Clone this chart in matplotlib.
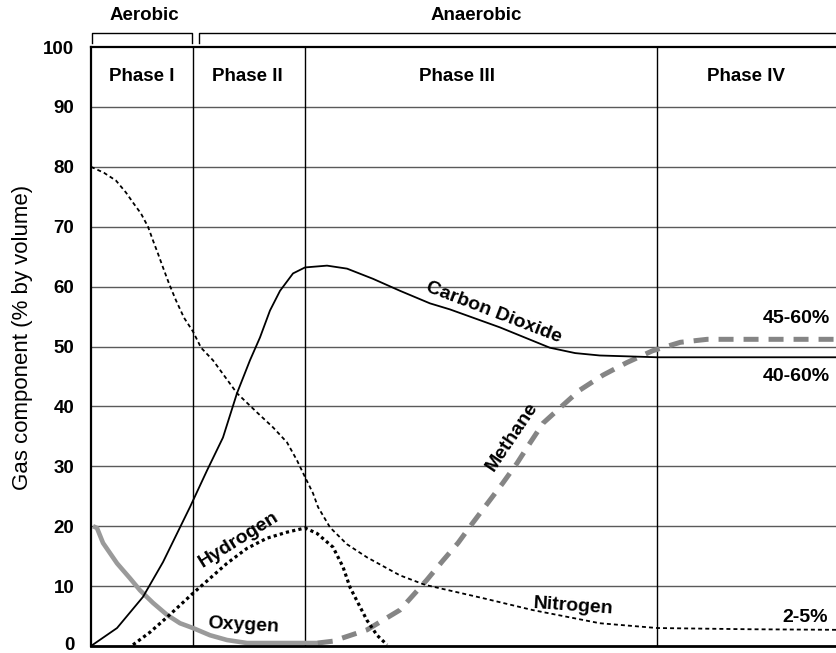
import matplotlib
matplotlib.use("Agg")
import matplotlib.pyplot as plt
import matplotlib.transforms as mtransforms

plt.rcParams['font.family'] = ['Liberation Sans', 'DejaVu Sans']

# ---- data (x = relative landfill age, 0-100; y = % by volume) ----
phase_bounds = [13.7, 28.7, 75.9]
phase_names = ['Phase I', 'Phase II', 'Phase III', 'Phase IV']
phase_label_x = [6.8, 20.9, 49.1, 87.8]

n2_x = [0, 1.74, 3.35, 4.69, 5.76, 6.70, 7.64, 8.31, 8.98, 9.65, 10.46, 11.39,
        12.47, 13.67, 14.75, 16.35, 19.57, 22.25, 24.40, 26.27, 27.61, 28.69,
        29.76, 30.43, 32.04, 34.3, 37.0, 41.4, 44.8, 52.5, 59.2, 68.2, 75.9,
        88.0, 100]
n2_y = [80, 79, 77.7, 75.7, 73.8, 72.2, 70, 67.7, 65.5, 63.2, 60.5, 57.7,
        54.8, 52.5, 49.8, 47.7, 42.2, 39, 36.5, 34, 31, 28.2,
        25.5, 23.2, 19.8, 17.0, 14.8, 11.8, 10.2, 8.0, 6.0, 3.8, 3.0,
        2.8, 2.7]

co2_x = [0, 3.49, 6.97, 9.65, 11.93, 13.27, 15.55, 17.69, 19.57, 21.31, 22.65,
         23.99, 25.34, 27.08, 28.69, 31.64, 34.32, 37.80, 41.42, 45.44, 48.1,
         54.8, 61.5, 64.9, 68.2, 75.9, 100]
co2_y = [0, 3.0, 8.2, 14.0, 19.8, 23.2, 29.3, 34.8, 42.2, 47.7, 51.5,
         56, 59.3, 62.2, 63.2, 63.5, 63, 61.3, 59.3, 57.2, 56.2,
         53.2, 49.8, 48.9, 48.5, 48.2, 48.2]

o2_x = [0.27, 0.80, 1.61, 3.49, 5.23, 6.57, 8.31, 10.19, 11.93, 13.67, 15.95,
        18.23, 20.91, 23.59, 30.43]
o2_y = [20, 19.7, 17.2, 13.8, 11.3, 9.3, 7.2, 5.2, 3.8, 3.0, 1.8,
        1.0, 0.5, 0.5, 0.5]

h2_x = [5.63, 7.91, 10.19, 11.93, 13.67, 15.95, 18.23, 20.91, 23.59, 26.27,
        28.69, 30.29, 32.44, 33.78, 34.72, 35.79, 36.99, 38.34, 39.68]
h2_y = [0.2, 2.3, 4.8, 6.8, 8.8, 11.3, 13.8, 16.3, 18.0, 19.0,
        19.7, 18.8, 16.5, 13.2, 9.8, 7.2, 4.3, 1.8, 0.2]

ch4_x = [30.4, 32.4, 37.0, 41.4, 43.2, 45.0, 47.2, 49.2, 51.2, 55.2, 57.1, 58.8,
         60.6, 62.9, 65.5, 68.6, 71.8, 75.3, 79.0, 82.6, 100]
ch4_y = [0.5, 0.8, 2.7, 6.0, 8.5, 11.0, 14.3, 17.2, 20.6, 27.2, 30.5, 33.8,
         37.2, 39.8, 42.7, 45.2, 47.3, 49.3, 50.7, 51.2, 51.2]

fig = plt.figure(figsize=(8.37, 6.53), dpi=100)
ax = fig.add_axes([91 / 837, 7 / 653, 746 / 837, 599 / 653])
ax.set_xlim(0, 100)
ax.set_ylim(0, 100)

# grid + phase separators
for yv in range(10, 100, 10):
    ax.axhline(yv, color='#5a5a5a', lw=1.0, zorder=1)
for xb in phase_bounds:
    ax.axvline(xb, color='black', lw=1.0, zorder=1)

# curves
ax.plot(n2_x, n2_y, color='black', lw=1.3, dashes=(2.2, 1.7), zorder=3)
ax.plot(co2_x, co2_y, color='black', lw=1.3, zorder=3)
ax.plot(o2_x, o2_y, color='#9a9a9a', lw=3.3, solid_capstyle='butt', zorder=2)
ax.plot(h2_x, h2_y, color='black', lw=2.3, dashes=(1.0, 1.0),
        dash_capstyle='butt', zorder=3)
ax.plot(ch4_x, ch4_y, color='#858585', lw=3.6, dashes=(3.0, 2.0),
        dash_capstyle='butt', zorder=2)

# curve labels
lab = dict(fontsize=14, fontweight='bold', zorder=4)
ax.text(54.0, 55.6, 'Carbon Dioxide', rotation=-21, ha='center', va='center', **lab)
ax.text(56.4, 35.0, 'Methane', rotation=56, ha='center', va='center', **lab)
ax.text(19.8, 17.8, 'Hydrogen', rotation=32, ha='center', va='center', **lab)
ax.text(20.4, 3.4, 'Oxygen', rotation=-3, ha='center', va='center', **lab)
ax.text(64.6, 6.7, 'Nitrogen', rotation=-4, ha='center', va='center', **lab)
ax.text(99.1, 54.7, '45-60%', ha='right', va='center', **lab)
ax.text(99.1, 45.0, '40-60%', ha='right', va='center', **lab)
ax.text(98.8, 4.8, '2-5%', ha='right', va='center', **lab)

for name, xc in zip(phase_names, phase_label_x):
    ax.text(xc, 95, name, ha='center', va='center', fontsize=13.5, fontweight='bold')

# aerobic / anaerobic brackets above the plot
ax.plot([0.1, 0.1, 13.5, 13.5], [100.7, 102.3, 102.3, 100.7], color='black',
        lw=1.0, clip_on=False)
ax.plot([14.5, 14.5, 100.5], [100.7, 102.3, 102.3], color='black',
        lw=1.0, clip_on=False)
ax.text(7.2, 105.3, 'Aerobic', ha='center', va='center', fontsize=13.5,
        fontweight='bold', clip_on=False)
ax.text(51.7, 105.3, 'Anaerobic', ha='center', va='center', fontsize=13.5,
        fontweight='bold', clip_on=False)

# axes styling
ax.set_xticks([])
ax.set_yticks(range(0, 101, 10))
ax.tick_params(axis='y', length=0, pad=12, labelsize=13.5)
for t in ax.get_yticklabels():
    t.set_fontweight('bold')
# keep the "0" label inside the canvas
zero_lab = ax.get_yticklabels()[0]
zero_lab.set_transform(zero_lab.get_transform() +
                       mtransforms.ScaledTranslation(0, 3 / 100, fig.dpi_scale_trans))
ax.spines['right'].set_visible(False)
ax.spines['top'].set_linewidth(1.6)
ax.spines['left'].set_linewidth(1.6)
ax.spines['bottom'].set_linewidth(2.0)
ax.set_ylabel('Gas component (% by volume)', fontsize=16)
ax.yaxis.set_label_coords(-0.078, 0.515)

fig.savefig('out.png', dpi=100)
